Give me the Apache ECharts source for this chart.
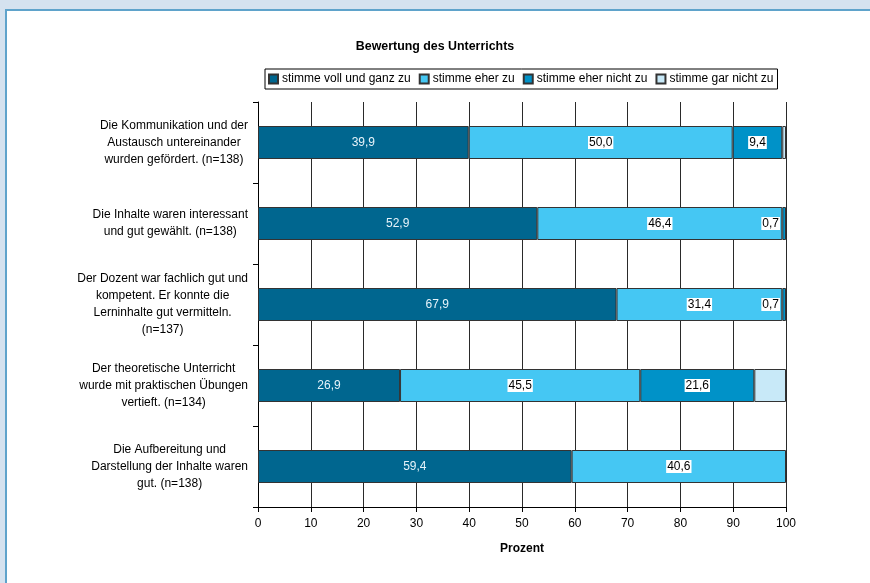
<!DOCTYPE html>
<html>
<head>
<meta charset="utf-8">
<style>
  html, body { margin: 0; padding: 0; background: #d5e2ef; }
  #chart { width: 870px; height: 583px; }
</style>
<script src="https://cdn.jsdelivr.net/npm/echarts@6/dist/echarts.min.js"></script>
</head>
<body>
<div id="chart"></div>
<script>
// Survey statements (top to bottom)
const categories = [
  'Die Kommunikation und der\nAustausch untereinander\nwurden gefördert. (n=138)',
  'Die Inhalte waren interessant\nund gut gewählt. (n=138)',
  'Der Dozent war fachlich gut und\nkompetent. Er konnte die\nLerninhalte gut vermitteln.\n(n=137)',
  'Der theoretische Unterricht\nwurde mit praktischen Übungen\nvertieft. (n=134)',
  'Die Aufbereitung und\nDarstellung der Inhalte waren\ngut. (n=138)'
];

// Answer shares in percent
const seriesNames = ['stimme voll und ganz zu', 'stimme eher zu', 'stimme eher nicht zu', 'stimme gar nicht zu'];
const vollUndGanz = [39.9, 52.9, 67.9, 26.9, 59.4];
const eherZu      = [50.0, 46.4, 31.4, 45.5, 40.6];
const eherNicht   = [9.4, 0.7, 0.7, 21.6, 0];
const garNicht    = [0.7, 0, 0, 6.0, 0];

const xTicks = [0, 10, 20, 30, 40, 50, 60, 70, 80, 90, 100];

const FONT = '"Liberation Sans", Arial, sans-serif';
const colors = ['#00668f', '#45c7f3', '#0092c8', '#c8e9f8'];

const fmt = v => v.toFixed(1).replace('.', ',');

function makeData(arr, smallLabelsRight) {
  return arr.map(v => {
    if (!v) return null;
    if (smallLabelsRight && v < 3) {
      // keep tiny segments' labels inside the plot
      return { value: v, label: { position: 'insideRight', distance: 6 } };
    }
    return v;
  });
}

const barBase = {
  type: 'bar',
  stack: 'total',
  barWidth: 33
};

const boxedLabel = {
  show: true,
  position: 'inside',
  color: '#000',
  backgroundColor: '#fff',
  padding: [1, 1, 0, 1],
  fontFamily: FONT,
  fontSize: 12,
  formatter: p => fmt(p.value)
};

const option = {
  backgroundColor: '#d5e2ef',
  animation: false,
  graphic: {
    elements: [{
      type: 'rect',
      z: -100,
      shape: { x: 6, y: 10, width: 900, height: 620 },
      style: { fill: '#fff', stroke: '#5fa3cb', lineWidth: 2 }
    }]
  },
  title: {
    text: 'Bewertung des Unterrichts',
    left: 'center',
    top: 36,
    textStyle: { fontFamily: FONT, fontSize: 12.4, fontWeight: 'bold', color: '#000' }
  },
  legend: {
    left: 265,
    top: 69,
    padding: [4, 4, 4, 3],
    borderColor: '#000',
    borderWidth: 1,
    itemGap: 8,
    itemWidth: 9,
    itemHeight: 9,
    icon: 'rect',
    data: seriesNames,
    textStyle: { fontFamily: FONT, fontSize: 12, color: '#000', padding: [0, 0, 0, -1] }
  },
  grid: { left: 258, right: 84, top: 102, bottom: 76, containLabel: false },
  xAxis: {
    type: 'value',
    min: 0,
    max: 100,
    interval: 10,
    name: 'Prozent',
    nameLocation: 'middle',
    nameGap: 36,
    nameTextStyle: { fontFamily: FONT, fontSize: 12, fontWeight: 'bold', color: '#000' },
    axisLine: { show: true, lineStyle: { color: '#000', width: 1 } },
    axisTick: { show: true, length: 5, lineStyle: { color: '#000' } },
    axisLabel: {
      margin: 11,
      fontFamily: FONT, fontSize: 12, color: '#000',
      formatter: v => (xTicks.indexOf(v) >= 0 ? String(v) : '')
    },
    splitLine: { show: true, lineStyle: { color: '#2a2a2a', width: 1 } }
  },
  yAxis: {
    type: 'category',
    inverse: true,
    data: categories,
    axisLine: { show: true, lineStyle: { color: '#000', width: 1 } },
    axisTick: { show: true, length: 5, lineStyle: { color: '#000' } },
    axisLabel: {
      margin: 10,
      align: 'right',
      formatter: v => v.split('\n').map(l => '{c|' + l + '}').join('\n'),
      rich: {
        c: { align: 'center', fontFamily: FONT, fontSize: 12, lineHeight: 17, color: '#000' }
      }
    }
  },
  series: [
    Object.assign({}, barBase, {
      name: seriesNames[0],
      data: makeData(vollUndGanz, false),
      itemStyle: { color: colors[0], borderColor: '#333', borderWidth: 1 },
      label: {
        show: true, position: 'inside', color: '#e6f3fa',
        fontFamily: FONT, fontSize: 12,
        formatter: p => fmt(p.value)
      }
    }),
    Object.assign({}, barBase, {
      name: seriesNames[1],
      data: makeData(eherZu, false),
      itemStyle: { color: colors[1], borderColor: '#333', borderWidth: 1 },
      label: boxedLabel
    }),
    Object.assign({}, barBase, {
      name: seriesNames[2],
      data: makeData(eherNicht, true),
      itemStyle: { color: colors[2], borderColor: '#333', borderWidth: 1 },
      label: boxedLabel
    }),
    Object.assign({}, barBase, {
      name: seriesNames[3],
      data: makeData(garNicht, false),
      itemStyle: { color: colors[3], borderColor: '#333', borderWidth: 1 },
      label: { show: false }
    })
  ]
};

const chart = echarts.init(document.getElementById('chart'), null, { renderer: 'canvas' });
chart.setOption(option);
</script>
</body>
</html>
